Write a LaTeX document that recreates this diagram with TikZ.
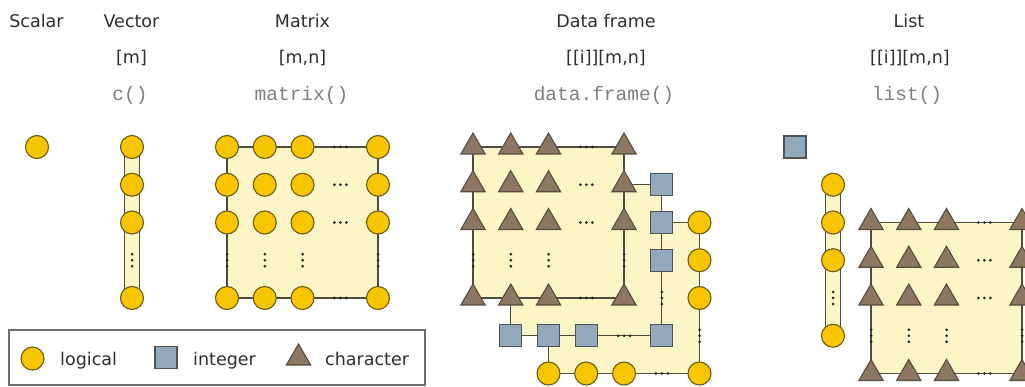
\documentclass[tikz,border=0pt]{standalone}
\usepackage{fontspec}
\setmainfont{DejaVu Sans}
\setmonofont{Liberation Mono}
\usetikzlibrary{shapes.geometric}
\definecolor{gold}{HTML}{F7C600}
\definecolor{goldline}{HTML}{6F5A14}
\definecolor{sqfill}{HTML}{91A9BB}
\definecolor{sqline}{HTML}{4C5458}
\definecolor{trifill}{HTML}{8C7862}
\definecolor{triline}{HTML}{5A4B3C}
\definecolor{layerfill}{HTML}{FCF6C6}
\definecolor{edgec}{HTML}{4E4C40}
\definecolor{headtxt}{HTML}{2E2E2E}
\definecolor{codetxt}{HTML}{7E7E7E}
\definecolor{dotc}{HTML}{262626}
\definecolor{boxc}{HTML}{6E6E6E}
\begin{document}
\begin{tikzpicture}[x=1pt,y=-1pt,
  lgc/.style={circle,draw=goldline,fill=gold,line width=1.1pt,minimum size=23pt,inner sep=0pt},
  intg/.style={rectangle,draw=sqline,fill=sqfill,line width=1.1pt,minimum size=22pt,inner sep=0pt},
  chr/.style={regular polygon,regular polygon sides=3,draw=triline,fill=trifill,line width=1.1pt,minimum size=28pt,inner sep=0pt},
  layerbox/.style={draw=edgec,fill=layerfill,line width=1.3pt},
  vbar/.style={draw=edgec,double=layerfill,double distance=14pt,line width=1.2pt},
  head/.style={anchor=base,inner sep=0pt,text=headtxt,font=\fontsize{17.5}{20}\selectfont},
  code/.style={anchor=base,inner sep=0pt,text=codetxt,font=\ttfamily\fontsize{19.5}{22}\selectfont},
  legtxt/.style={anchor=base west,inner sep=0pt,text=headtxt,font=\fontsize{17.5}{20}\selectfont},
  hd/.pic={\fill[dotc] (-6,0) circle (1.5pt) (0,0) circle (1.5pt) (6,0) circle (1.5pt);},
  vd/.pic={\fill[dotc] (0,-6) circle (1.5pt) (0,0) circle (1.5pt) (0,6) circle (1.5pt);}
]
\useasboundingbox (0,0) rectangle (1025,387);
\clip (0,0) rectangle (1025,387);
\def\s{37.75}

% ---------- headers ----------
\node[head] (hscalar) at (36.5,28) {Scalar};
\node[head] (hvector) at (131.5,28) {Vector};
\node[head] (hmatrix) at (302.5,28) {Matrix};
\node[head] (hdf) at (606,28) {Data frame};
\node[head] (hlist) at (909,28) {List};
\node[head] (ivector) at (131.5,64) {[m]};
\node[head] (imatrix) at (302.5,64) {[m,n]};
\node[head] (idf) at (606,64) {[[i]][m,n]};
\node[head] (ilist) at (910,64) {[[i]][m,n]};
\node[code] (cvector) at (130,101) {c()};
\node[code] (cmatrix) at (301.5,101) {matrix()};
\node[code] (cdf) at (604,101) {data.frame()};
\node[code] (clist) at (907,101) {list()};

% ---------- scalar ----------
\node[lgc] (scalar) at (37,147) {};

% ---------- vector ----------
\foreach \r in {0,...,4} \coordinate (V\r) at (132,{147+\r*\s});
\draw[vbar] (V0) -- (V4);
\foreach \r in {0,1,2,4} \node[lgc] (v\r) at (V\r) {};
\pic at (V3) {vd};

% ---------- matrix ----------
\foreach \r in {0,...,4} \foreach \c in {0,...,4}
  \coordinate (M\r\c) at ({227+\c*\s},{147+\r*\s});
\draw[layerbox] (M00) rectangle (M44);
\foreach \r in {0,1,2,4} {
  \foreach \c in {0,1,2,4} \node[lgc] (m\r\c) at (M\r\c) {};
  \pic at (M\r3) {hd};
}
\foreach \c in {0,1,2,4} \pic at (M3\c) {vd};

% ---------- data frame: logical layer ----------
\foreach \r in {0,...,4} \foreach \c in {0,...,4}
  \coordinate (L\r\c) at ({548.5+\c*\s},{222.5+\r*\s});
\draw[layerbox] (L00) rectangle (L44);
\foreach \r in {0,1,2,4} \node[lgc] (l\r4) at (L\r4) {};
\foreach \c in {0,1,2} \node[lgc] (l4\c) at (L4\c) {};
\pic at (L34) {vd};
\pic at (L43) {hd};

% ---------- data frame: integer layer ----------
\foreach \r in {0,...,4} \foreach \c in {0,...,4}
  \coordinate (I\r\c) at ({510.75+\c*\s},{184.75+\r*\s});
\draw[layerbox] (I00) rectangle (I44);
\foreach \r in {0,1,2,4} \node[intg] (i\r4) at (I\r4) {};
\foreach \c in {0,1,2} \node[intg] (i4\c) at (I4\c) {};
\pic at (I34) {vd};
\pic at (I43) {hd};

% ---------- data frame: character layer ----------
\foreach \r in {0,...,4} \foreach \c in {0,...,4}
  \coordinate (C\r\c) at ({473+\c*\s},{147+\r*\s});
\draw[layerbox] (C00) rectangle (C44);
\foreach \r in {0,1,2,4} {
  \foreach \c in {0,1,2,4} \node[chr] (c\r\c) at (C\r\c) {};
  \pic at (C\r3) {hd};
}
\foreach \c in {0,1,2,4} \pic at (C3\c) {vd};

% ---------- list ----------
\node[intg] (lsq) at (795,147) {};
\foreach \r in {0,...,4} \coordinate (W\r) at (833,{184.75+\r*\s});
\draw[vbar] (W0) -- (W4);
\foreach \r in {0,1,2,4} \node[lgc] (w\r) at (W\r) {};
\pic at (W3) {vd};
\foreach \r in {0,...,4} \foreach \c in {0,...,4}
  \coordinate (T\r\c) at ({871+\c*\s},{222.5+\r*\s});
\draw[layerbox] (T00) rectangle (T44);
\foreach \r in {0,1,2,4} {
  \foreach \c in {0,1,2,4} \node[chr] (t\r\c) at (T\r\c) {};
  \pic at (T\r3) {hd};
}
\foreach \c in {0,1,2,4} \pic at (T3\c) {vd};

% ---------- legend ----------
\draw[draw=boxc,line width=1.4pt] (9,330) rectangle (425,385);
\node[lgc] (klog) at (32.5,358.5) {};
\node[legtxt] (tlog) at (60,365) {logical};
\node[intg] (kint) at (166,357.5) {};
\node[legtxt] (tint) at (193,365) {integer};
\node[chr] (kchr) at (298.5,358) {};
\node[legtxt] (tchr) at (325,365) {character};
\end{tikzpicture}
\end{document}
